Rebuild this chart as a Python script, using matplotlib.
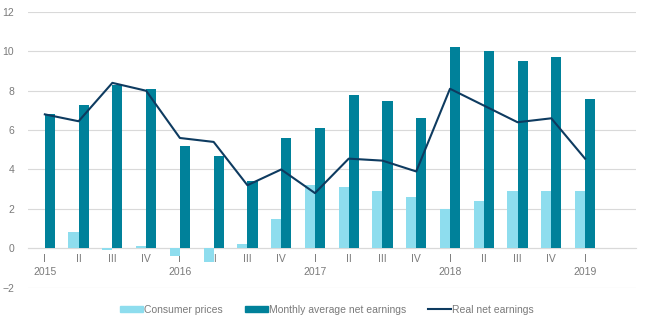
import numpy as np
import matplotlib.pyplot as plt
from matplotlib.patches import Patch
from matplotlib.lines import Line2D

plt.rcParams['font.family'] = ['Liberation Sans', 'DejaVu Sans']

quarters = ['I', 'II', 'III', 'IV', 'I', 'II', 'III', 'IV', 'I', 'II', 'III', 'IV',
            'I', 'II', 'III', 'IV', 'I']
years = ['2015', '', '', '', '2016', '', '', '', '2017', '', '', '',
         '2018', '', '', '', '2019']

consumer_prices = [0.0, 0.8, -0.1, 0.1, -0.4, -0.7, 0.2, 1.5, 3.2, 3.1, 2.9, 2.6,
                   2.0, 2.4, 2.9, 2.9, 2.9]
net_earnings = [6.8, 7.3, 8.3, 8.1, 5.2, 4.7, 3.4, 5.6, 6.1, 7.8, 7.5, 6.6,
                10.2, 10.0, 9.5, 9.7, 7.6]
real_earnings = [6.8, 6.45, 8.4, 8.0, 5.6, 5.4, 3.2, 4.0, 2.8, 4.55, 4.45, 3.9,
                 8.1, 7.25, 6.4, 6.6, 4.55]

c_light = '#8EDDEE'
c_dark = '#00819A'
c_line = '#0E3B60'
c_text = '#7A7A7A'
c_grid = '#D9D9D9'

x = np.arange(len(quarters))
w = 0.3

fig = plt.figure(figsize=(6.5, 3.26), dpi=100)
ax = fig.add_axes([0.043, 0.1166, 0.935, 0.8466])

ax.bar(x - w / 2, consumer_prices, w, color=c_light, zorder=2)
ax.bar(x + w / 2, net_earnings, w, color=c_dark, zorder=2)
ax.plot(x, real_earnings, color=c_line, lw=1.5, zorder=3)

ax.set_xlim(-0.5, len(quarters) + 0.5)
ax.set_ylim(-2.02, 12)
ax.set_yticks(range(-2, 13, 2))
ax.grid(axis='y', color=c_grid, lw=0.8, zorder=0)
ax.set_axisbelow(True)

for s in ['top', 'right', 'left']:
    ax.spines[s].set_visible(False)
ax.spines['bottom'].set_position(('data', 0))
ax.spines['bottom'].set_color(c_grid)
ax.spines['bottom'].set_zorder(1)

ax.set_xticks(x)
ax.set_xticklabels([q + '\n' + y for q, y in zip(quarters, years)],
                   linespacing=1.35)
ax.tick_params(axis='x', length=0, pad=4, labelsize=7.5, labelcolor=c_text)
ax.tick_params(axis='y', length=0, pad=10, labelsize=7.5, labelcolor=c_text)
for lbl in ax.get_yticklabels():
    lbl.set_horizontalalignment('right')

handles = [Patch(color=c_light, label='Consumer prices'),
           Patch(color=c_dark, label='Monthly average net earnings'),
           Line2D([], [], color=c_line, lw=1.5, label='Real net earnings')]
fig.legend(handles=handles, loc='center', bbox_to_anchor=(0.503, 0.05), ncol=3,
           frameon=False, fontsize=7.5, labelcolor=c_text, handlelength=2.2,
           handleheight=0.45, handletextpad=0.1, columnspacing=2.1)

fig.savefig('out.png', dpi=100)
